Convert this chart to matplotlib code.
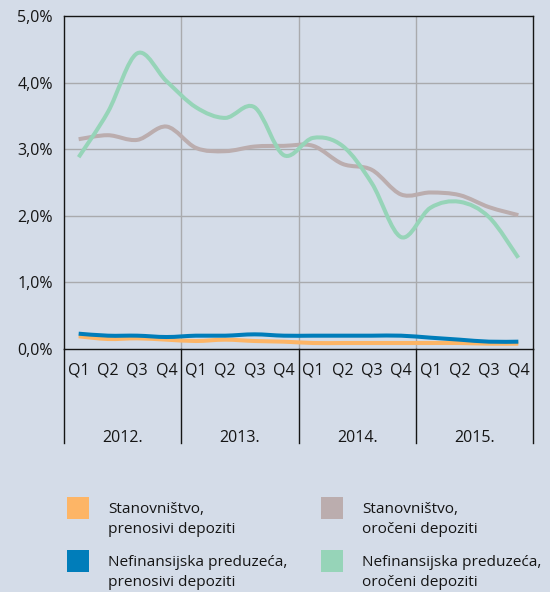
import matplotlib.pyplot as plt
from matplotlib.path import Path
from matplotlib.patches import PathPatch, Rectangle
import matplotlib.transforms as mtransforms
import numpy as np

plt.rcParams['font.family'] = ['Open Sans', 'DejaVu Sans']

quarters = ['Q1', 'Q2', 'Q3', 'Q4'] * 4
years = ['2012.', '2013.', '2014.', '2015.']
y_ticks = [0, 1, 2, 3, 4, 5]
y_tick_labels = ['0,0%', '1,0%', '2,0%', '3,0%', '4,0%', '5,0%']

# kamatne stope, u %
stan_prenosivi = [0.19, 0.15, 0.16, 0.14, 0.12, 0.14, 0.12, 0.11,
                  0.09, 0.09, 0.09, 0.09, 0.09, 0.09, 0.08, 0.08]
nefin_prenosivi = [0.23, 0.20, 0.20, 0.18, 0.20, 0.20, 0.22, 0.20,
                   0.20, 0.20, 0.20, 0.20, 0.17, 0.14, 0.11, 0.11]
stan_oroceni = [3.15, 3.21, 3.14, 3.34, 3.02, 2.97, 3.04, 3.05,
                3.05, 2.78, 2.69, 2.32, 2.35, 2.31, 2.13, 2.01]
nefin_oroceni = [2.88, 3.56, 4.44, 4.02, 3.63, 3.47, 3.63, 2.91,
                 3.17, 3.05, 2.49, 1.68, 2.12, 2.21, 1.98, 1.37]

series = [
    ('Stanovništvo,\nprenosivi depoziti', stan_prenosivi, '#FDB566'),
    ('Nefinansijska preduzeća,\nprenosivi depoziti', nefin_prenosivi, '#007DBA'),
    ('Stanovništvo,\noročeni depoziti', stan_oroceni, '#BBADAE'),
    ('Nefinansijska preduzeća,\noročeni depoziti', nefin_oroceni, '#96D4B8'),
]

BG = '#D4DCE8'
GRID = '#A9AAAD'
TXT = '#151515'
FS = 11.5
LEG_FS = 11.1


def smooth_path(values):
    # glatka kriva kroz tacke (Bezier, kao u Excelu)
    pts = np.column_stack([np.arange(len(values)), values])
    padded = np.vstack([pts[0], pts, pts[-1]])
    verts = [pts[0]]
    codes = [Path.MOVETO]
    for i in range(len(pts) - 1):
        p0, p1, p2, p3 = padded[i], padded[i + 1], padded[i + 2], padded[i + 3]
        verts += [p1 + (p2 - p0) / 6, p2 - (p3 - p1) / 6, p2]
        codes += [Path.CURVE4] * 3
    return Path(verts, codes)


fig = plt.figure(figsize=(5.5, 5.92), dpi=100, facecolor=BG)
ax = fig.add_axes([64 / 550, 1 - 349 / 592, 469 / 550, 333 / 592], facecolor=BG)

for name, values, color in series:
    ax.add_patch(PathPatch(smooth_path(values), fill=False, edgecolor=color,
                           linewidth=2.9, capstyle='butt', zorder=3))

ax.set_xlim(-0.5, 15.5)
ax.set_ylim(0, 5)

ax.set_yticks(y_ticks)
ax.set_yticklabels(y_tick_labels)
ax.set_xticks(np.arange(16))
ax.set_xticklabels(quarters)
ax.tick_params(axis='both', length=0, labelsize=FS, colors=TXT)
ax.tick_params(axis='y', pad=8)
ax.tick_params(axis='x', pad=10)

# mreza
for v in y_ticks[1:-1]:
    ax.axhline(v, color=GRID, linewidth=1, zorder=1)
for b in [3.5, 7.5, 11.5]:
    ax.axvline(b, color=GRID, linewidth=1, zorder=1)

for s in ax.spines.values():
    s.set_color(TXT)
    s.set_linewidth(1)

# podela po godinama ispod ose
trans = mtransforms.blended_transform_factory(ax.transData, ax.transAxes)
for b in [-0.5, 3.5, 7.5, 11.5, 15.5]:
    ax.plot([b, b], [0, -0.282], color=TXT, linewidth=1,
            transform=trans, clip_on=False)
for i, yr in enumerate(years):
    ax.text(4 * i + 1.5, -(442 - 349) / 333, yr, transform=trans, ha='center',
            va='baseline', fontsize=FS, color=TXT)

# legenda
legend_pos = [(67, 497), (67, 550), (321, 497), (321, 550)]
for (px, py), (name, values, color) in zip(legend_pos, series):
    fig.patches.append(Rectangle((px / 550, 1 - (py + 22) / 592), 22 / 550, 22 / 592,
                                 transform=fig.transFigure, facecolor=color,
                                 edgecolor='none'))
    for k, line in enumerate(name.split('\n')):
        fig.text((px + 41) / 550, 1 - (py + 16 + 20 * k) / 592, line, ha='left',
                 va='baseline', fontsize=LEG_FS, color=TXT)

fig.savefig('out.png', dpi=100, facecolor=BG)
